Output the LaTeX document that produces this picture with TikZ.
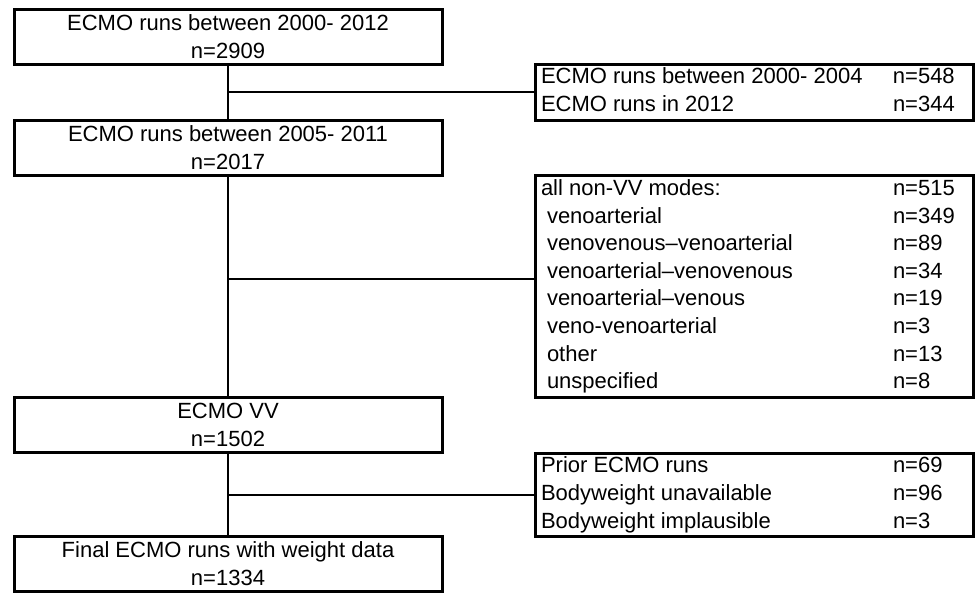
\documentclass[tikz,border=0pt]{standalone}
\usepackage{fontspec}
\setmainfont{Liberation Sans}
\usetikzlibrary{positioning,calc}
\newcommand{\ind}{\hspace*{6pt}}

\begin{document}
\begin{tikzpicture}[x=1pt,y=-1pt,line width=2pt,
		  every node/.style={draw,rectangle,line width=3pt,font=\fontsize{22}{27.6}\selectfont},
		  mainbox/.style={minimum width=428pt,minimum height=55pt,align=center,inner sep=0pt},
		  sidebox/.style={inner xsep=6pt,inner ysep=0.4pt}
		]
			\useasboundingbox (0,0) rectangle (976,592);

			% the main runs
			\node[mainbox] (m1) at (228,36.5) {ECMO runs between 2000- 2012\\n=2909};
			\node[mainbox] (m2) at (228,147.5) {ECMO runs between 2005- 2011\\n=2017};
			\node[mainbox] (m3) at (228,425) {ECMO VV\\n=1502};
			\node[mainbox] (m4) at (228,563.5) {Final ECMO runs with weight data\\n=1334};

			% the excluded runs
			\node[sidebox] (s1) at (754,92) {\begin{tabular}{@{}p{352pt}@{}p{74pt}@{}}
			  ECMO runs between 2000- 2004 & n=548\\
			  ECMO runs in 2012 & n=344
			\end{tabular}};
			\node[sidebox] (s2) at (754,286.5) {\begin{tabular}{@{}p{352pt}@{}p{74pt}@{}}
			  all non-VV modes: & n=515\\
			  \ind venoarterial & n=349\\
			  \ind venovenous--venoarterial & n=89\\
			  \ind venoarterial--venovenous & n=34\\
			  \ind venoarterial--venous & n=19\\
			  \ind veno-venoarterial & n=3\\
			  \ind other & n=13\\
			  \ind unspecified & n=8
			\end{tabular}};
			\node[sidebox] (s3) at (754,495) {\begin{tabular}{@{}p{352pt}@{}p{74pt}@{}}
			  Prior ECMO runs & n=69\\
			  Bodyweight unavailable & n=96\\
			  Bodyweight implausible & n=3
			\end{tabular}};

			% the edges
			\draw (m1.south) -- (m2.north);
			\draw (m2.south) -- (m3.north);
			\draw (m3.south) -- (m4.north);
			\draw (s1.west) -- (s1.west -| m1.south);
			\draw ([yshift=7.5pt]s2.west) -- ([yshift=7.5pt]s2.west -| m2.south);
			\draw (s3.west) -- (s3.west -| m3.south);

		\end{tikzpicture}
\end{document}
